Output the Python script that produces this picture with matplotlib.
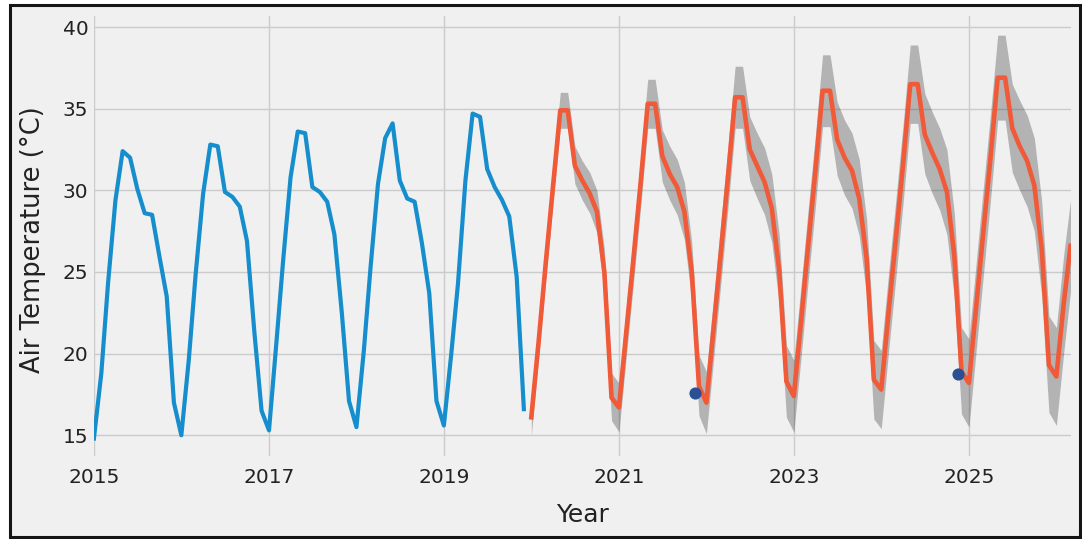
import matplotlib
matplotlib.use("Agg")
import matplotlib.pyplot as plt
import matplotlib.dates as mdates
from matplotlib.patches import Rectangle
import pandas as pd

# ---- data -------------------------------------------------------------
observed_start = "2015-01-01"
observed = [
    14.8, 18.8, 24.3, 29.4, 32.4, 32.0, 30.1, 28.6, 28.5, 26.0, 23.5, 17.0,
    15.0, 19.6, 24.9, 29.8, 32.8, 32.7, 29.9, 29.6, 29.0, 26.9, 21.3, 16.5,
    15.3, 20.7, 25.7, 30.8, 33.6, 33.5, 30.2, 29.9, 29.3, 27.3, 22.5, 17.1,
    15.5, 20.2, 25.3, 30.4, 33.2, 34.1, 30.6, 29.5, 29.3, 26.8, 23.7, 17.1,
    15.6, 20.0, 24.3, 30.6, 34.7, 34.5, 31.3, 30.2, 29.4, 28.4, 24.7, 16.6,
]

forecast_start = "2020-01-01"
forecast = [
    16.1, 20.8, 25.5, 30.3, 34.9, 34.9, 31.5, 30.6, 29.8, 28.7, 25.0, 17.3,
    16.7, 21.4, 25.6, 30.4, 35.3, 35.3, 32.1, 31.0, 30.2, 28.7, 25.0, 18.0,
    17.0, 21.7, 26.0, 30.8, 35.7, 35.7, 32.5, 31.5, 30.5, 28.9, 25.1, 18.3,
    17.4, 22.1, 26.5, 31.2, 36.1, 36.1, 33.1, 32.0, 31.2, 29.5, 25.8, 18.4,
    17.8, 22.6, 26.9, 31.6, 36.5, 36.5, 33.4, 32.3, 31.3, 29.9, 26.0, 18.9,
    18.2, 23.0, 27.3, 32.0, 36.9, 36.9, 33.8, 32.7, 31.8, 30.3, 26.4, 19.3,
    18.6, 23.1, 26.6,
]
forecast_lower = [
    15.0, 19.8, 24.5, 29.3, 33.8, 33.8, 30.4, 29.4, 28.6, 27.4, 23.6, 15.9,
    15.2, 19.9, 24.1, 28.9, 33.8, 33.8, 30.5, 29.4, 28.5, 27.0, 23.2, 16.2,
    15.1, 19.8, 24.1, 28.9, 33.8, 33.8, 30.6, 29.5, 28.5, 26.8, 23.0, 16.1,
    15.2, 19.9, 24.3, 29.0, 33.9, 33.9, 30.9, 29.7, 28.9, 27.2, 23.5, 16.0,
    15.4, 20.2, 24.5, 29.2, 34.1, 34.1, 31.0, 29.8, 28.8, 27.3, 23.4, 16.3,
    15.5, 20.3, 24.6, 29.4, 34.3, 34.3, 31.1, 30.0, 29.0, 27.5, 23.5, 16.4,
    15.6, 20.1, 23.8,
]
forecast_upper = [
    17.2, 21.8, 26.6, 31.4, 36.0, 36.0, 32.7, 31.8, 31.1, 30.0, 26.4, 18.8,
    18.2, 22.9, 27.1, 31.9, 36.8, 36.8, 33.7, 32.7, 31.9, 30.5, 26.8, 19.9,
    18.9, 23.6, 27.9, 32.7, 37.6, 37.6, 34.5, 33.5, 32.6, 31.0, 27.3, 20.5,
    19.6, 24.3, 28.7, 33.4, 38.3, 38.3, 35.4, 34.3, 33.5, 31.9, 28.2, 20.8,
    20.2, 25.0, 29.3, 34.0, 38.9, 38.9, 35.9, 34.8, 33.8, 32.5, 28.6, 21.6,
    20.9, 25.7, 30.0, 34.7, 39.5, 39.5, 36.5, 35.5, 34.6, 33.2, 29.3, 22.3,
    21.6, 26.1, 29.4,
]

marker_dates = ["2021-11-13", "2024-11-15"]
marker_values = [17.6, 18.75]

year_ticks = [2015, 2017, 2019, 2021, 2023, 2025]
y_ticks = [15, 20, 25, 30, 35, 40]

# ---- figure -----------------------------------------------------------
W, H, DPI = 1082, 539, 100
BG = "#f0f0f0"
fig = plt.figure(figsize=(W / DPI, H / DPI), dpi=DPI, facecolor="white")

# framed panel behind the axes
fig.patches.append(Rectangle((9.5 / W, 1 - 536.5 / H), (1079.5 - 9.5) / W,
                             (536.5 - 4.5) / H, transform=fig.transFigure,
                             facecolor=BG, edgecolor="#151515", lw=2.2,
                             zorder=0))

left_px, right_px, top_px, bottom_px = 93.9, 1070.5, 15.6, 455.7
ax = fig.add_axes([left_px / W, 1 - bottom_px / H,
                   (right_px - left_px) / W, (bottom_px - top_px) / H])
ax.set_zorder(2)
ax.set_facecolor(BG)
for s in ax.spines.values():
    s.set_visible(False)

obs_idx = pd.date_range(observed_start, periods=len(observed), freq="MS")
fc_idx = pd.date_range(forecast_start, periods=len(forecast), freq="MS")

ax.fill_between(fc_idx, forecast_lower, forecast_upper, color="k",
                alpha=0.25, lw=0, zorder=2)
ax.plot(obs_idx, observed, color="#168dcc", lw=3.0, zorder=3,
        solid_joinstyle="round", label="observed")
ax.plot(fc_idx, forecast, color="#f05a38", lw=3.3, zorder=3,
        solid_joinstyle="round", label="Forecast")
ax.scatter(pd.to_datetime(marker_dates), marker_values, s=60,
           color="#2a4f92", zorder=4)

ax.set_xlim(obs_idx[0], fc_idx[-1])
ax.set_ylim(13.75, 40.7)

ax.set_xticks([pd.Timestamp(f"{y}-01-01") for y in year_ticks])
ax.xaxis.set_major_formatter(mdates.DateFormatter("%Y"))
ax.set_yticks(y_ticks)
ax.grid(True, color="#cbcbcb", lw=1.0, zorder=1)
ax.set_axisbelow(True)

ax.tick_params(axis="both", length=0, labelsize=14.5, colors="#222222")
ax.tick_params(axis="x", pad=9)
ax.tick_params(axis="y", pad=4)

ax.set_xlabel("Year", fontsize=18, color="#222222")
ax.set_ylabel("Air Temperature (°C)", fontsize=18.5, color="#222222")
for lab in (ax.xaxis.label, ax.yaxis.label):
    lab.set_rotation_mode("default")
    lab.set_va("center")
    lab.set_ha("center")
ax.xaxis.set_label_coords((582.5 - left_px) / (right_px - left_px),
                          (bottom_px - 514.5) / (bottom_px - top_px))
ax.yaxis.set_label_coords((32.7 - left_px) / (right_px - left_px),
                          (bottom_px - 240.0) / (bottom_px - top_px))

fig.savefig("out.png", dpi=DPI, facecolor=fig.get_facecolor())
